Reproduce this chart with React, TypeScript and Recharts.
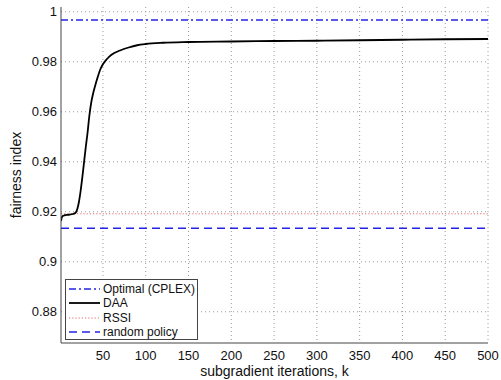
import React from 'react'
import {
  LineChart,
  Line,
  XAxis,
  YAxis,
  CartesianGrid,
  ReferenceLine,
} from 'recharts'

const kSteps = [1, 2, 3, 5, 10, 15, 18, 20, 22, 24, 26, 28, 30, 32, 34, 36, 38, 41, 44, 47, 50, 55, 60, 70, 80, 90, 100, 120, 150, 200, 250, 300, 350, 400, 450, 500]
const daaValues = [0.9163, 0.9178, 0.9183, 0.9186, 0.9188, 0.9191, 0.9196, 0.921, 0.924, 0.9285, 0.934, 0.94, 0.946, 0.9515, 0.958, 0.963, 0.9665, 0.9705, 0.974, 0.977, 0.979, 0.9812, 0.9828, 0.9845, 0.9857, 0.9866, 0.9871, 0.9876, 0.9879, 0.9881, 0.9883, 0.9884, 0.9886, 0.9888, 0.989, 0.9891]

const optimalValue = 0.9967
const rssiValue = 0.9192
const randomValue = 0.9134

const xTicks = [50, 100, 150, 200, 250, 300, 350, 400, 450, 500]
const yTicks = [0.88, 0.9, 0.92, 0.94, 0.96, 0.98, 1]

const FONT = '"Liberation Sans", Arial, Helvetica, sans-serif'
const BLUE = '#2323e6'

const legendItems = [
  { label: 'Optimal (CPLEX)', color: BLUE, dash: '7 3 2 3', width: 1.5 },
  { label: 'DAA', color: '#000', dash: undefined, width: 1.8 },
  { label: 'RSSI', color: '#e46a6a', dash: '1.2 2', width: 1.2 },
  { label: 'random policy', color: BLUE, dash: '8 5', width: 1.6 },
]

const data = kSteps.map((k, i) => ({ k, daa: daaValues[i] }))

export default function App() {
  return (
    <div style={{ position: 'absolute', left: 0, top: 0, width: 501, height: 380, background: '#fff', fontFamily: FONT }}>
      <LineChart width={501} height={380} data={data} margin={{ top: 7, right: 13, left: 0, bottom: 0 }}>
        <CartesianGrid
          stroke="#9a9a9a"
          strokeDasharray="1 3"
          horizontalValues={yTicks}
          verticalValues={xTicks}
        />
        <XAxis
          dataKey="k"
          type="number"
          domain={[1, 500]}
          ticks={xTicks}
          allowDataOverflow
          height={37}
          tickLine={false}
          tickSize={6}
          tickMargin={2}
          axisLine={{ stroke: '#444' }}
          tick={{ fontSize: 13, fill: '#111', fontFamily: FONT }}
          label={{ value: 'subgradient iterations, k', position: 'insideBottom', offset: 4, fontSize: 14, fill: '#111', fontFamily: FONT }}
        />
        <XAxis xAxisId="top" orientation="top" type="number" domain={[1, 500]} height={0} tick={false} tickLine={false} axisLine={{ stroke: '#444' }} />
        <YAxis
          type="number"
          domain={[0.8675, 1.0019]}
          ticks={yTicks}
          allowDataOverflow
          width={61}
          tickLine={false}
          tickSize={2}
          tickMargin={2}
          axisLine={{ stroke: '#444' }}
          tickFormatter={(v: number) => String(v)}
          tick={{ fontSize: 13, fill: '#111', fontFamily: FONT }}
          label={{ value: 'fairness index', angle: -90, position: 'center', dx: -14, fontSize: 14, fill: '#111', fontFamily: FONT }}
        />
        <YAxis yAxisId="right" orientation="right" width={0} tick={false} tickLine={false} axisLine={{ stroke: '#444' }} />
        <ReferenceLine y={optimalValue} stroke={BLUE} strokeWidth={1.5} strokeDasharray="7 3 2 3" />
        <ReferenceLine y={rssiValue} stroke="#e46a6a" strokeWidth={1.2} strokeDasharray="1.2 2" />
        <ReferenceLine y={randomValue} stroke={BLUE} strokeWidth={1.6} strokeDasharray="8 5" />
        <Line type="monotone" dataKey="daa" stroke="#000" strokeWidth={1.8} dot={false} isAnimationActive={false} />
      </LineChart>
      <div
        style={{
          position: 'absolute',
          left: 65,
          top: 279,
          width: 133,
          height: 61,
          boxSizing: 'border-box',
          border: '1px solid #444',
          background: '#fff',
          fontSize: 12,
          color: '#111',
          paddingTop: 2,
        }}
      >
        {legendItems.map((it) => (
          <div key={it.label} style={{ display: 'flex', alignItems: 'center', height: 14.3, whiteSpace: 'nowrap' }}>
            <svg width={36} height={10} style={{ flex: 'none' }}>
              <line x1={3} y1={5} x2={34} y2={5} stroke={it.color} strokeWidth={it.width} strokeDasharray={it.dash} />
            </svg>
            <span style={{ marginLeft: 1 }}>{it.label}</span>
          </div>
        ))}
      </div>
    </div>
  )
}
